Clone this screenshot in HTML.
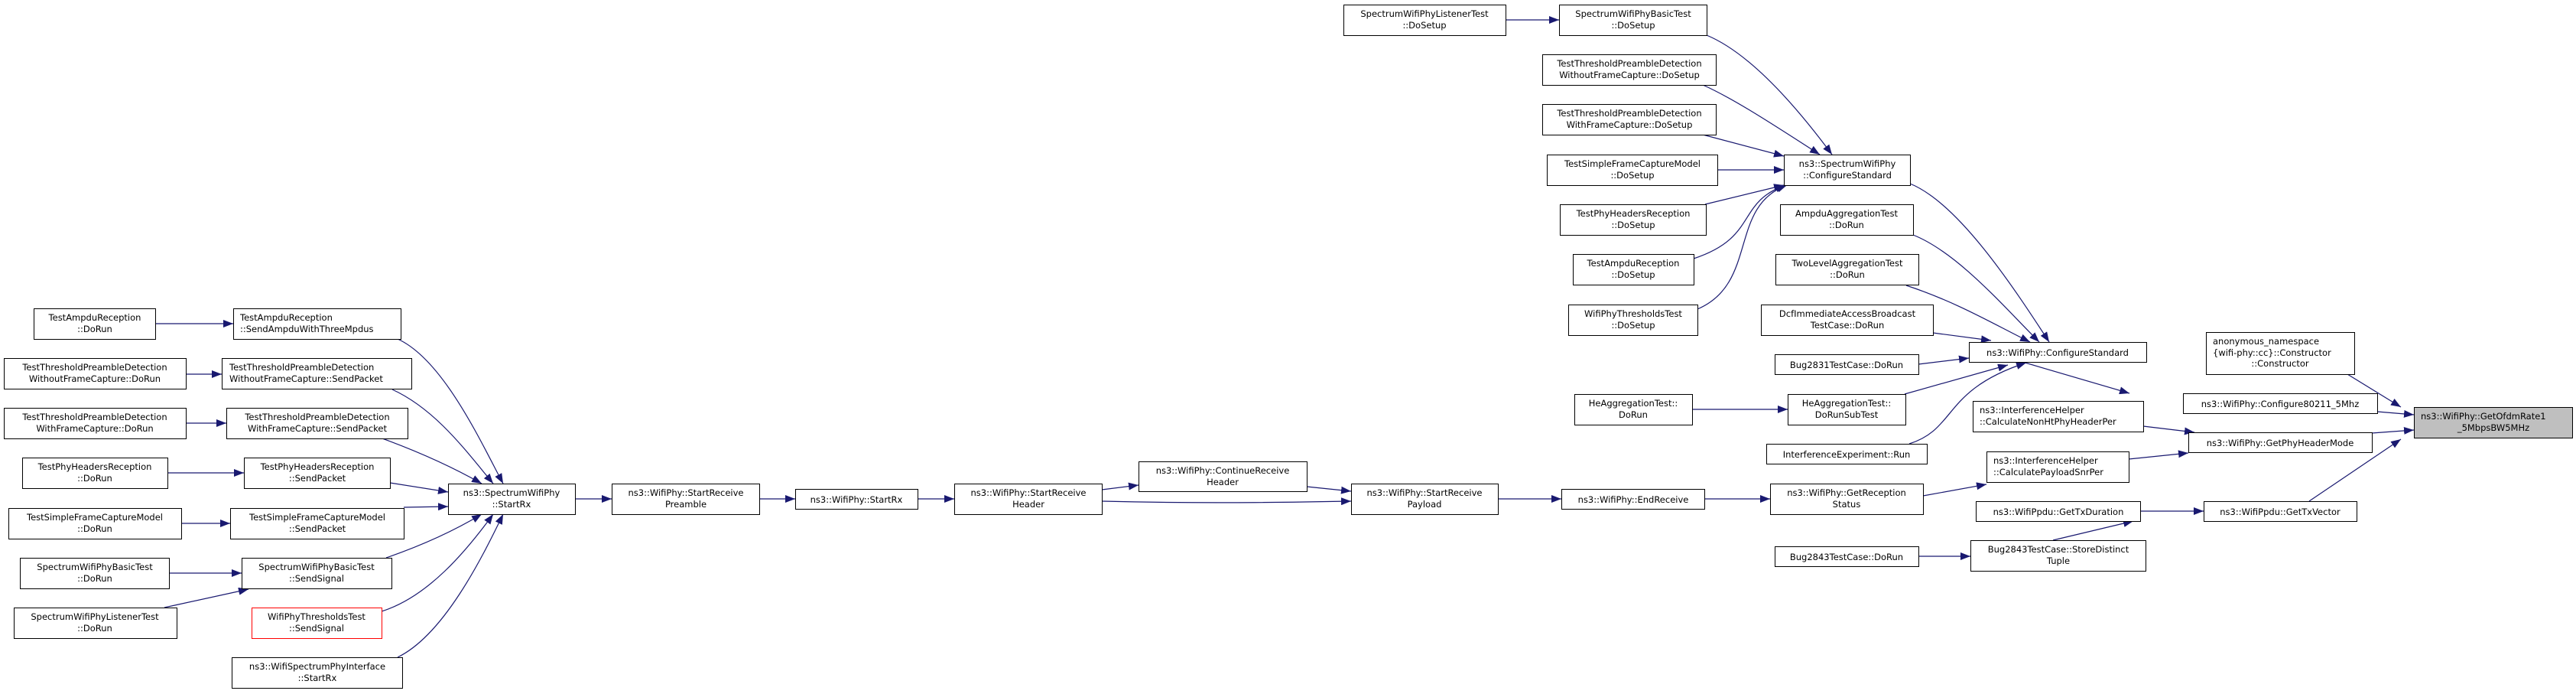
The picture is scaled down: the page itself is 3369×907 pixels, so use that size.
<!DOCTYPE html>
<html><head><meta charset="utf-8"><style>
html,body{margin:0;padding:0;background:#fff;}
svg{display:block;}
text{font-family:"DejaVu Sans","Liberation Sans",sans-serif;font-size:11.5px;fill:#000;}
.b{fill:#fff;stroke:#000;stroke-width:1;}
.e{fill:none;stroke:#191970;stroke-width:1.2;marker-end:url(#a);}
</style></head><body>
<svg width="3369" height="907" viewBox="0 0 3369 907" xmlns="http://www.w3.org/2000/svg">
<defs><marker id="a" markerUnits="userSpaceOnUse" markerWidth="14" markerHeight="10" refX="13" refY="5" orient="auto"><path d="M0,0 L13,5 L0,10 z" fill="#191970"/></marker></defs>

<!-- edges -->
<path class="e" d="M203,423 L305,423"/>
<path class="e" d="M243,489 L290,489"/>
<path class="e" d="M243,553 L296,553"/>
<path class="e" d="M219,618 L319,618"/>
<path class="e" d="M237,684 L301,684"/>
<path class="e" d="M221,749 L316,749"/>
<path class="e" d="M215,794 L325,770"/>
<path class="e" d="M520,443 C580,470 630,580 658,632"/>
<path class="e" d="M513,509 C570,535 610,590 645,632"/>
<path class="e" d="M500,573 C560,595 600,615 630,632"/>
<path class="e" d="M510,631 L586,643"/>
<path class="e" d="M528,663 L586,662"/>
<path class="e" d="M505,729 C560,710 600,690 630,672"/>
<path class="e" d="M499,799 C560,780 610,720 645,672"/>
<path class="e" d="M520,859 C580,830 630,730 658,672"/>
<path class="e" d="M752,652 L800,652"/>
<path class="e" d="M993,652 L1040,652"/>
<path class="e" d="M1200,652 L1248,652"/>
<path class="e" d="M1441,640 L1489,634"/>
<path class="e" d="M1441,655 C1560,658 1660,657 1767,655"/>
<path class="e" d="M1709,636 L1767,642"/>
<path class="e" d="M1959,652 L2042,652"/>
<path class="e" d="M2229,652 L2315,652"/>
<path class="e" d="M2515,648 L2598,633"/>
<path class="e" d="M2784,600 L2862,592"/>
<path class="e" d="M2803,557 L2870,565"/>
<path class="e" d="M3102,566 L3157,562"/>
<path class="e" d="M3109,538 L3157,542"/>
<path class="e" d="M3070,489 L3140,532"/>
<path class="e" d="M3020,655 L3140,574"/>
<path class="e" d="M2799,668 L2882,668"/>
<path class="e" d="M2685,706 L2790,681"/>
<path class="e" d="M2509,727 L2577,727"/>
<path class="e" d="M2645,473 L2785,514"/>
<path class="e" d="M2498,240 C2560,265 2630,370 2680,447"/>
<path class="e" d="M2502,307 C2560,330 2620,400 2667,447"/>
<path class="e" d="M2493,373 C2560,395 2610,425 2655,447"/>
<path class="e" d="M2528,435 L2604,445"/>
<path class="e" d="M2509,476 L2575,468"/>
<path class="e" d="M2491,515 L2626,477"/>
<path class="e" d="M2497,580 C2560,560 2540,510 2650,474"/>
<path class="e" d="M2213,535 L2338,535"/>
<path class="e" d="M1969,26 L2039,26"/>
<path class="e" d="M2232,46 C2290,70 2350,140 2396,202"/>
<path class="e" d="M2227,111 C2270,130 2330,170 2380,202"/>
<path class="e" d="M2227,176 L2333,204"/>
<path class="e" d="M2246,222 L2333,222"/>
<path class="e" d="M2230,267 L2333,242"/>
<path class="e" d="M2215,338 C2300,310 2270,265 2335,242"/>
<path class="e" d="M2220,404 C2300,370 2260,270 2337,242"/>

<!-- nodes col1 -->
<rect class="b" x="44.5" y="403.5" width="159" height="40"/><text x="124" y="419" text-anchor="middle">TestAmpduReception</text><text x="124" y="434" text-anchor="middle">::DoRun</text>
<rect class="b" x="5.5" y="468.5" width="238" height="40"/><text x="124" y="484" text-anchor="middle">TestThresholdPreambleDetection</text><text x="124" y="499" text-anchor="middle">WithoutFrameCapture::DoRun</text>
<rect class="b" x="5.5" y="533.5" width="238" height="40"/><text x="124" y="549" text-anchor="middle">TestThresholdPreambleDetection</text><text x="124" y="564" text-anchor="middle">WithFrameCapture::DoRun</text>
<rect class="b" x="29.5" y="598.5" width="190" height="40"/><text x="124" y="614" text-anchor="middle">TestPhyHeadersReception</text><text x="124" y="629" text-anchor="middle">::DoRun</text>
<rect class="b" x="11.5" y="664.5" width="226" height="40"/><text x="124" y="680" text-anchor="middle">TestSimpleFrameCaptureModel</text><text x="124" y="695" text-anchor="middle">::DoRun</text>
<rect class="b" x="26.5" y="729.5" width="195" height="40"/><text x="124" y="745" text-anchor="middle">SpectrumWifiPhyBasicTest</text><text x="124" y="760" text-anchor="middle">::DoRun</text>
<rect class="b" x="18.5" y="794.5" width="213" height="40"/><text x="124" y="810" text-anchor="middle">SpectrumWifiPhyListenerTest</text><text x="124" y="825" text-anchor="middle">::DoRun</text>

<!-- col2 -->
<rect class="b" x="305.5" y="403.5" width="219" height="40"/><text x="314" y="419">TestAmpduReception</text><text x="314" y="434">::SendAmpduWithThreeMpdus</text>
<rect class="b" x="290.5" y="468.5" width="248" height="40"/><text x="300" y="484">TestThresholdPreambleDetection</text><text x="300" y="499">WithoutFrameCapture::SendPacket</text>
<rect class="b" x="296.5" y="533.5" width="237" height="40"/><text x="415" y="549" text-anchor="middle">TestThresholdPreambleDetection</text><text x="415" y="564" text-anchor="middle">WithFrameCapture::SendPacket</text>
<rect class="b" x="319.5" y="598.5" width="191" height="40"/><text x="415" y="614" text-anchor="middle">TestPhyHeadersReception</text><text x="415" y="629" text-anchor="middle">::SendPacket</text>
<rect class="b" x="301.5" y="664.5" width="227" height="40"/><text x="415" y="680" text-anchor="middle">TestSimpleFrameCaptureModel</text><text x="415" y="695" text-anchor="middle">::SendPacket</text>
<rect class="b" x="316.5" y="729.5" width="196" height="40"/><text x="414" y="745" text-anchor="middle">SpectrumWifiPhyBasicTest</text><text x="414" y="760" text-anchor="middle">::SendSignal</text>
<rect x="329.5" y="794.5" width="170" height="40" fill="#fff" stroke="#ff0000"/><text x="414" y="810" text-anchor="middle">WifiPhyThresholdsTest</text><text x="414" y="825" text-anchor="middle">::SendSignal</text>
<rect class="b" x="303.5" y="859.5" width="223" height="40"/><text x="415" y="875" text-anchor="middle">ns3::WifiSpectrumPhyInterface</text><text x="415" y="890" text-anchor="middle">::StartRx</text>

<!-- chain -->
<rect class="b" x="586.5" y="632.5" width="166" height="40"/><text x="669" y="648" text-anchor="middle">ns3::SpectrumWifiPhy</text><text x="669" y="663" text-anchor="middle">::StartRx</text>
<rect class="b" x="800.5" y="632.5" width="193" height="40"/><text x="897" y="648" text-anchor="middle">ns3::WifiPhy::StartReceive</text><text x="897" y="663" text-anchor="middle">Preamble</text>
<rect class="b" x="1040.5" y="639.5" width="160" height="26"/><text x="1120" y="657" text-anchor="middle">ns3::WifiPhy::StartRx</text>
<rect class="b" x="1248.5" y="632.5" width="193" height="40"/><text x="1345" y="648" text-anchor="middle">ns3::WifiPhy::StartReceive</text><text x="1345" y="663" text-anchor="middle">Header</text>
<rect class="b" x="1489.5" y="603.5" width="220" height="39"/><text x="1599" y="619" text-anchor="middle">ns3::WifiPhy::ContinueReceive</text><text x="1599" y="634" text-anchor="middle">Header</text>
<rect class="b" x="1767.5" y="632.5" width="192" height="40"/><text x="1863" y="648" text-anchor="middle">ns3::WifiPhy::StartReceive</text><text x="1863" y="663" text-anchor="middle">Payload</text>
<rect class="b" x="2042.5" y="639.5" width="187" height="26"/><text x="2136" y="657" text-anchor="middle">ns3::WifiPhy::EndReceive</text>

<!-- top cluster -->
<rect class="b" x="1757.5" y="6.5" width="212" height="40"/><text x="1863" y="22" text-anchor="middle">SpectrumWifiPhyListenerTest</text><text x="1863" y="37" text-anchor="middle">::DoSetup</text>
<rect class="b" x="2039.5" y="6.5" width="193" height="40"/><text x="2136" y="22" text-anchor="middle">SpectrumWifiPhyBasicTest</text><text x="2136" y="37" text-anchor="middle">::DoSetup</text>
<rect class="b" x="2017.5" y="71.5" width="227" height="40"/><text x="2131" y="87" text-anchor="middle">TestThresholdPreambleDetection</text><text x="2131" y="102" text-anchor="middle">WithoutFrameCapture::DoSetup</text>
<rect class="b" x="2017.5" y="136.5" width="227" height="40"/><text x="2131" y="152" text-anchor="middle">TestThresholdPreambleDetection</text><text x="2131" y="167" text-anchor="middle">WithFrameCapture::DoSetup</text>
<rect class="b" x="2023.5" y="202.5" width="223" height="40"/><text x="2135" y="218" text-anchor="middle">TestSimpleFrameCaptureModel</text><text x="2135" y="233" text-anchor="middle">::DoSetup</text>
<rect class="b" x="2040.5" y="267.5" width="191" height="40"/><text x="2136" y="283" text-anchor="middle">TestPhyHeadersReception</text><text x="2136" y="298" text-anchor="middle">::DoSetup</text>
<rect class="b" x="2057.5" y="332.5" width="158" height="40"/><text x="2136" y="348" text-anchor="middle">TestAmpduReception</text><text x="2136" y="363" text-anchor="middle">::DoSetup</text>
<rect class="b" x="2051.5" y="398.5" width="169" height="40"/><text x="2136" y="414" text-anchor="middle">WifiPhyThresholdsTest</text><text x="2136" y="429" text-anchor="middle">::DoSetup</text>
<rect class="b" x="2059.5" y="515.5" width="154" height="40"/><text x="2136" y="531" text-anchor="middle">HeAggregationTest::</text><text x="2136" y="546" text-anchor="middle">DoRun</text>

<!-- right-mid column -->
<rect class="b" x="2333.5" y="202.5" width="165" height="40"/><text x="2416" y="218" text-anchor="middle">ns3::SpectrumWifiPhy</text><text x="2416" y="233" text-anchor="middle">::ConfigureStandard</text>
<rect class="b" x="2328.5" y="267.5" width="174" height="40"/><text x="2415" y="283" text-anchor="middle">AmpduAggregationTest</text><text x="2415" y="298" text-anchor="middle">::DoRun</text>
<rect class="b" x="2322.5" y="332.5" width="187" height="40"/><text x="2416" y="348" text-anchor="middle">TwoLevelAggregationTest</text><text x="2416" y="363" text-anchor="middle">::DoRun</text>
<rect class="b" x="2303.5" y="398.5" width="225" height="40"/><text x="2416" y="414" text-anchor="middle">DcfImmediateAccessBroadcast</text><text x="2416" y="429" text-anchor="middle">TestCase::DoRun</text>
<rect class="b" x="2321.5" y="463.5" width="188" height="26"/><text x="2415" y="481" text-anchor="middle">Bug2831TestCase::DoRun</text>
<rect class="b" x="2338.5" y="515.5" width="154" height="40"/><text x="2415" y="531" text-anchor="middle">HeAggregationTest::</text><text x="2415" y="546" text-anchor="middle">DoRunSubTest</text>
<rect class="b" x="2310.5" y="580.5" width="210" height="26"/><text x="2415" y="598" text-anchor="middle">InterferenceExperiment::Run</text>
<rect class="b" x="2315.5" y="632.5" width="200" height="40"/><text x="2415" y="648" text-anchor="middle">ns3::WifiPhy::GetReception</text><text x="2415" y="663" text-anchor="middle">Status</text>
<rect class="b" x="2321.5" y="714.5" width="188" height="26"/><text x="2415" y="732" text-anchor="middle">Bug2843TestCase::DoRun</text>

<rect class="b" x="2575.5" y="447.5" width="232" height="26"/><text x="2691" y="465" text-anchor="middle">ns3::WifiPhy::ConfigureStandard</text>
<rect class="b" x="2580.5" y="524.5" width="223" height="40"/><text x="2589" y="540">ns3::InterferenceHelper</text><text x="2589" y="555">::CalculateNonHtPhyHeaderPer</text>
<rect class="b" x="2598.5" y="590.5" width="186" height="40"/><text x="2607" y="606">ns3::InterferenceHelper</text><text x="2607" y="621">::CalculatePayloadSnrPer</text>
<rect class="b" x="2584.5" y="655.5" width="215" height="26"/><text x="2692" y="673" text-anchor="middle">ns3::WifiPpdu::GetTxDuration</text>
<rect class="b" x="2577.5" y="706.5" width="229" height="40"/><text x="2692" y="722" text-anchor="middle">Bug2843TestCase::StoreDistinct</text><text x="2692" y="737" text-anchor="middle">Tuple</text>

<rect class="b" x="2885.5" y="434.5" width="194" height="55"/><text x="2894" y="450">anonymous_namespace</text><text x="2894" y="465">{wifi-phy::cc}::Constructor</text><text x="2982" y="479" text-anchor="middle">::Constructor</text>
<rect class="b" x="2855.5" y="514.5" width="254" height="26"/><text x="2982" y="532" text-anchor="middle">ns3::WifiPhy::Configure80211_5Mhz</text>
<rect class="b" x="2862.5" y="565.5" width="240" height="26"/><text x="2982" y="583" text-anchor="middle">ns3::WifiPhy::GetPhyHeaderMode</text>
<rect class="b" x="2882.5" y="655.5" width="200" height="26"/><text x="2982" y="673" text-anchor="middle">ns3::WifiPpdu::GetTxVector</text>

<rect x="3157.5" y="532.5" width="207" height="40" fill="#bfbfbf" stroke="#000"/><text x="3166" y="548">ns3::WifiPhy::GetOfdmRate1</text><text x="3261" y="563" text-anchor="middle">_5MbpsBW5MHz</text>
</svg>
</body></html>
